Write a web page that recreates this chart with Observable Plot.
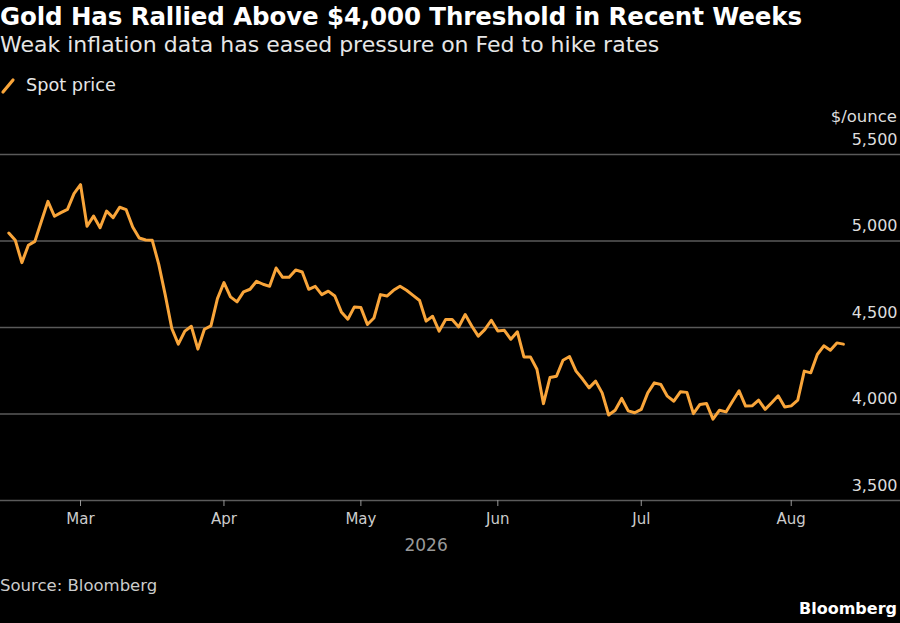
<!DOCTYPE html>
<html>
<head>
<meta charset="utf-8">
<script src="https://cdn.jsdelivr.net/npm/d3@7"></script>
<script src="https://cdn.jsdelivr.net/npm/@observablehq/plot@0.6"></script>
<style>
  html, body { margin: 0; padding: 0; background: #000; }
  body { width: 900px; height: 623px; position: relative; overflow: hidden; font-family: "DejaVu Sans", sans-serif; }
  .abs { position: absolute; white-space: nowrap; }
  #title { left: 0; top: 2px; font-size: 24.5px; font-weight: bold; color: #fff; line-height: 30px; letter-spacing: -0.1px; }
  #subtitle { left: 0; top: 31px; font-size: 22px; color: #e6e6e6; line-height: 28px; }
  #legend { left: 0; top: 73px; font-size: 17.7px; color: #e6e6e6; line-height: 24px; display: flex; align-items: center; }
  #unit { right: 3px; top: 106px; font-size: 16.5px; color: #dddddd; line-height: 22px; z-index: 2; }
  #chart { left: 0; top: 100px; z-index: 1; }
  #source { left: 0; top: 575px; font-size: 16.5px; color: #cccccc; line-height: 22px; }
  #logo { right: 3px; top: 598px; font-size: 16px; font-weight: bold; color: #fff; line-height: 22px; }
</style>
</head>
<body>
<div id="title" class="abs">Gold Has Rallied Above $4,000 Threshold in Recent Weeks</div>
<div id="subtitle" class="abs">Weak inflation data has eased pressure on Fed to hike rates</div>
<div id="legend" class="abs"><svg width="22" height="20" style="margin-right:4px"><line x1="3" y1="17" x2="13" y2="5" stroke="#f9a53a" stroke-width="3.2" stroke-linecap="round"/></svg>Spot price</div>
<div id="chart" class="abs"></div>
<div id="unit" class="abs">$/ounce</div>
<div id="source" class="abs">Source: Bloomberg</div>
<div id="logo" class="abs">Bloomberg</div>
<script>
// Spot gold price, $/ounce, one value per trading day (Feb 13 – Aug 13, 2026)
const spotPrice = [
  5046, 5004, 4875, 4975, 4998, 5114, 5229, 5143, 5164, 5183,
  5274, 5326, 5085, 5144, 5077, 5173, 5135, 5195, 5181, 5081,
  5017, 5006, 5004, 4865, 4687, 4494, 4404, 4479, 4507, 4375,
  4490, 4509, 4667, 4760, 4677, 4648, 4706, 4721, 4767, 4750,
  4738, 4844, 4790, 4790, 4833, 4821, 4721, 4738, 4690, 4710,
  4682, 4590, 4548, 4619, 4615, 4517, 4555, 4690, 4682, 4715,
  4738, 4715, 4686, 4656, 4537, 4565, 4479, 4546, 4546, 4503,
  4575, 4509, 4450, 4488, 4542, 4480, 4484, 4432, 4475, 4330,
  4330, 4259, 4060, 4211, 4218, 4311, 4332, 4248, 4202, 4151,
  4190, 4122, 3994, 4022, 4090, 4018, 4007, 4027, 4122, 4180,
  4171, 4103, 4074, 4128, 4125, 4002, 4055, 4061, 3970, 4022,
  4012, 4074, 4134, 4046, 4047, 4080, 4027, 4065, 4105, 4041,
  4047, 4080, 4248, 4238, 4344, 4394, 4369, 4411, 4404
];
// Trading-day index of the first session of each month, and its label
const monthTickIndex = [11, 33, 54, 75, 97, 120];
const monthTickLabels = ["Mar", "Apr", "May", "Jun", "Jul", "Aug"];
const yearLabel = ["2026"];
const yTicks = [3500, 4000, 4500, 5000, 5500];

const data = spotPrice.map((v, i) => ({ i, v }));

const chart = Plot.plot({
  width: 900,
  height: 460,
  marginLeft: 0,
  marginRight: 0,
  marginTop: 54,
  marginBottom: 60,
  style: { background: "#000", color: "#cccccc", fontFamily: "DejaVu Sans, sans-serif", fontSize: "15px", overflow: "visible" },
  x: { domain: [-1.273, 136.76], axis: null },
  y: { domain: [3500, 5500], axis: null },
  marks: [
    Plot.gridY(yTicks, { stroke: "#5a5a5a", strokeOpacity: 1, strokeWidth: 1.3 }),
    Plot.axisX(monthTickIndex, {
      tickFormat: d => monthTickLabels[monthTickIndex.indexOf(d)],
      tickSize: 6, tickPadding: 7, stroke: "#999", fill: "#cccccc", fontSize: 15, label: null
    }),
    Plot.axisY(yTicks, {
      anchor: "right", tickSize: 0, tickPadding: 0, dx: -3, dy: -15, textAnchor: "end",
      tickFormat: d3.format(","), fill: "#dddddd", fontSize: 16, label: null
    }),
    Plot.line(data, { x: "i", y: "v", stroke: "#f9a53a", strokeWidth: 3, strokeLinejoin: "round", strokeLinecap: "round" }),
    Plot.text(yearLabel, { x: () => 64, frameAnchor: "bottom", dy: 50, fill: "#999999", fontSize: 17, text: d => d })
  ]
});
document.getElementById("chart").appendChild(chart);
</script>
</body>
</html>
